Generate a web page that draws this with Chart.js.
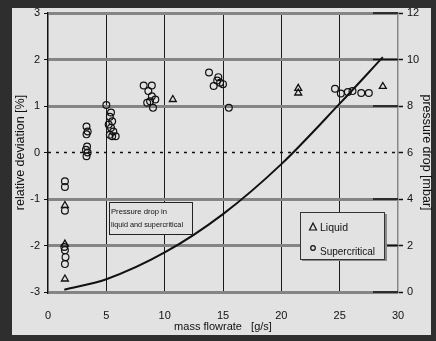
<!DOCTYPE html>
<html>
<head>
<meta charset="utf-8">
<script src="https://cdn.jsdelivr.net/npm/chart.js@4"></script>
<style>
  html, body { margin: 0; padding: 0; background: #2e2e2e; }
  canvas { display: block; }
</style>
</head>
<body>
<canvas id="flowChart" width="436" height="341"></canvas>
<script>
const superX = [1.45, 1.45, 1.45, 1.4, 1.45, 1.5, 1.45,
    3.3, 3.4, 3.3, 3.35, 3.25, 3.4, 3.3,
    5.0, 5.4, 5.3, 5.5, 5.2, 5.4, 5.6, 5.3, 5.5, 5.8,
    8.2, 8.9, 8.6, 8.9, 8.5, 9.2, 9.0, 8.75,
    13.8, 14.2, 14.5, 14.75, 15.0, 14.6, 15.5,
    24.6, 25.1, 25.7, 26.1, 26.85, 27.5];
const superY = [-0.62, -0.74, -1.25, -2.03, -2.1, -2.25, -2.4,
    0.56, 0.45, 0.39, 0.13, 0.06, 0.0, -0.08,
    1.02, 0.86, 0.77, 0.67, 0.6, 0.53, 0.45, 0.38, 0.35, 0.35,
    1.44, 1.44, 1.32, 1.21, 1.07, 1.14, 0.96, 1.1,
    1.72, 1.43, 1.55, 1.5, 1.47, 1.62, 0.96,
    1.37, 1.27, 1.3, 1.32, 1.28, 1.28];

const liquidX = [1.45, 1.45, 1.45, 10.7, 21.45, 21.45, 28.7];
const liquidY = [-1.14, -1.97, -2.72, 1.14, 1.38, 1.28, 1.42];

// pressure drop curve (right axis, mbar)
const flowX = [1.4, 5, 10, 15, 20, 25, 28.7];
const dropY = [0.1, 0.55, 1.7, 3.35, 5.5, 8.1, 10.1];

const xTitle = "mass flowrate   [g/s]";
const yTitle = "relative deviation [%]";
const y2Title = "pressure drop [mbar]";
const noteLines = ["Pressure drop in", "liquid and supercritical"];
const legendItems = ["Liquid", "Supercritical"];

const FONT = "'Liberation Sans', Arial, sans-serif";
const BG = "#e2e2e2";

function pts(xs, ys) {
    return xs.map((x, i) => ({ x: x, y: ys[i] }));
}

// dark frame + light panel
const framePlugin = {
    id: "frame",
    beforeDraw(chart) {
        let ctx = chart.ctx;
        ctx.save();
        ctx.fillStyle = "#2e2e2e";
        ctx.fillRect(0, 0, chart.width, chart.height);
        ctx.fillStyle = BG;
        ctx.fillRect(12, 8, 419, 327);
        ctx.restore();
    }
};

// short black ticks drawn inward on the right axis
const innerTicks = {
    id: "innerTicks",
    beforeDatasetsDraw(chart) {
        let ctx = chart.ctx;
        let s = chart.scales.y2;
        let right = chart.chartArea.right;
        ctx.save();
        ctx.strokeStyle = "#111";
        ctx.lineWidth = 1.5;
        s.ticks.forEach(t => {
            if (t.value === 6) return;
            let y = s.getPixelForValue(t.value);
            ctx.beginPath();
            ctx.moveTo(right - 25, y);
            ctx.lineTo(right, y);
            ctx.stroke();
        });
        ctx.restore();
    }
};

// note box and legend box inside the plot
const boxes = {
    id: "boxes",
    afterDatasetsDraw(chart) {
        let ctx = chart.ctx;
        ctx.save();

        // note
        ctx.fillStyle = BG;
        ctx.fillRect(109, 202, 83, 32);
        ctx.strokeStyle = "#222";
        ctx.lineWidth = 1;
        ctx.strokeRect(109.5, 202.5, 83, 32);
        ctx.fillStyle = "#111";
        ctx.font = "8px " + FONT;
        ctx.textBaseline = "middle";
        ctx.fillText(noteLines[0], 111, 212, 56);
        ctx.fillText(noteLines[1], 111, 225, 72);

        // legend with a small drop shadow
        ctx.fillStyle = "#8a8a8a";
        ctx.fillRect(302, 214, 85, 47);
        ctx.fillStyle = BG;
        ctx.fillRect(300, 212, 84, 47);
        ctx.strokeStyle = "#333";
        ctx.strokeRect(300.5, 212.5, 84, 47);

        ctx.strokeStyle = "#111";
        ctx.lineWidth = 1.2;
        ctx.beginPath();
        ctx.moveTo(313, 223);
        ctx.lineTo(316.5, 230);
        ctx.lineTo(309.5, 230);
        ctx.closePath();
        ctx.stroke();
        ctx.beginPath();
        ctx.arc(313, 248, 2.3, 0, Math.PI * 2);
        ctx.stroke();

        ctx.fillStyle = "#111";
        ctx.font = "11px " + FONT;
        ctx.fillText(legendItems[0], 320, 228, 28);
        ctx.fillText(legendItems[1], 320, 252, 55);
        ctx.restore();
    }
};

const tickFont = { family: FONT, size: 11 };

new Chart(document.getElementById("flowChart"), {
    type: "scatter",
    data: {
        datasets: [
            {
                label: "zero",
                type: "line",
                data: [{ x: 0, y: 0 }, { x: 30, y: 0 }],
                borderColor: "#111",
                borderWidth: 1.6,
                borderDash: [3, 5],
                pointRadius: 0,
                yAxisID: "y"
            },
            {
                label: "pressure drop",
                type: "line",
                data: pts(flowX, dropY),
                borderColor: "#111",
                borderWidth: 2,
                cubicInterpolationMode: "monotone",
                pointRadius: 0,
                yAxisID: "y2"
            },
            {
                label: "Supercritical",
                data: pts(superX, superY),
                pointStyle: "circle",
                pointRadius: 3.4,
                borderColor: "#111",
                borderWidth: 1.2,
                backgroundColor: "rgba(0,0,0,0)",
                yAxisID: "y"
            },
            {
                label: "Liquid",
                data: pts(liquidX, liquidY),
                pointStyle: "triangle",
                pointRadius: 4,
                borderColor: "#111",
                borderWidth: 1.3,
                backgroundColor: "rgba(0,0,0,0)",
                yAxisID: "y"
            }
        ]
    },
    options: {
        responsive: false,
        animation: false,
        layout: { padding: { top: 13, left: 0, right: 0, bottom: 0 } },
        plugins: {
            legend: { display: false },
            tooltip: { enabled: false }
        },
        scales: {
            x: {
                type: "linear",
                min: 0,
                max: 30,
                afterFit: s => { s.height = 49; },
                ticks: { stepSize: 5, padding: 17, color: "#111", font: tickFont, maxRotation: 0 },
                grid: {
                    drawTicks: false,
                    color: c => (c.tick.value === 0 || c.tick.value === 30) ? "rgba(0,0,0,0)" : "#1a1a1a",
                    lineWidth: 1
                },
                border: { display: false },
                title: {
                    display: true,
                    text: xTitle,
                    color: "#111",
                    font: { family: FONT, size: 11 },
                    padding: { top: 0, bottom: 7 }
                }
            },
            y: {
                position: "left",
                min: -3,
                max: 3,
                afterFit: s => { s.width = 48; },
                ticks: { stepSize: 1, padding: 4, color: "#111", font: tickFont },
                grid: {
                    color: c => c.tick.value === 0 ? "rgba(0,0,0,0)" : "#858585",
                    lineWidth: 3,
                    tickLength: 4,
                    tickColor: "#111",
                    tickWidth: 1
                },
                border: { color: "#111", width: 1.5 },
                title: {
                    display: true,
                    text: yTitle,
                    color: "#111",
                    font: { family: FONT, size: 12.5 },
                    padding: { top: 13, bottom: 0 }
                }
            },
            y2: {
                position: "right",
                min: 0,
                max: 12,
                afterFit: s => { s.width = 38; },
                ticks: { stepSize: 2, padding: 4, color: "#111", font: tickFont },
                grid: {
                    drawOnChartArea: false,
                    tickLength: 5,
                    tickColor: "#111",
                    tickWidth: 1.5
                },
                border: { color: "#888", width: 1.5 },
                title: {
                    display: true,
                    text: y2Title,
                    color: "#111",
                    font: { family: FONT, size: 12.5 },
                    padding: { top: 2, bottom: 0 }
                }
            }
        }
    },
    plugins: [framePlugin, innerTicks, boxes]
});
</script>
</body>
</html>
